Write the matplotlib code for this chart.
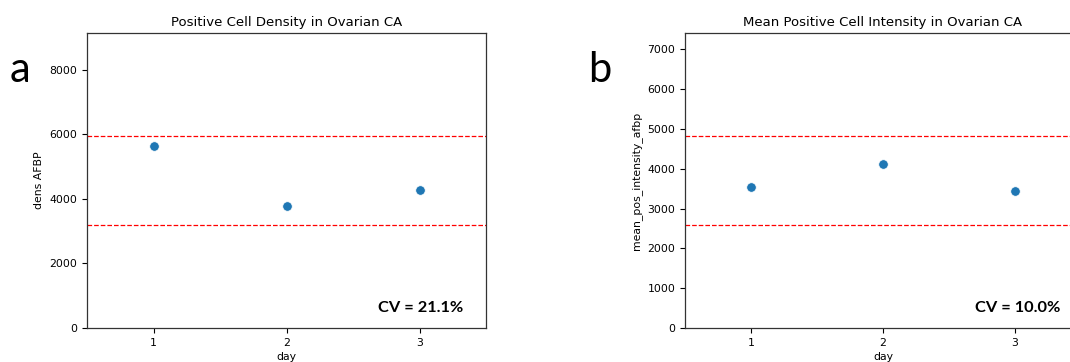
import matplotlib
matplotlib.use("Agg")
import matplotlib.pyplot as plt
import numpy as np

days = [1, 2, 3]
dens_afbp = [5650, 3790, 4270]
mean_intensity_afbp = [3550, 4130, 3440]

titles = ["Positive Cell Density in Ovarian CA", "Mean Positive Cell Intensity in Ovarian CA"]
ylabels = ["dens AFBP", "mean_pos_intensity_afbp"]
cv_labels = ["CV = 21.1%", "CV = 10.0%"]
panel_letters = ["a", "b"]
xlabel = "day"

W, H = 1070, 362
fig = plt.figure(figsize=(W / 100, H / 100), dpi=100)

def fx(px):
    return px / W

def fy(py):
    return 1 - py / H

ax_boxes = [
    (87, 33, 486, 328),
    (685, 33, 1081, 328),
]
letter_pos = [(20, 70), (600, 70)]
series = [dens_afbp, mean_intensity_afbp]

for i in range(2):
    x0, y0, x1, y1 = ax_boxes[i]
    ax = fig.add_axes([fx(x0), fy(y1), (x1 - x0) / W, (y1 - y0) / H])
    vals = np.array(series[i], dtype=float)
    m = vals.mean()
    ax.scatter(days, vals, s=48, color="#1f77b4", edgecolors="white", linewidths=0.6, zorder=3)
    ax.axhline(m * 1.3, color="red", linestyle="--", linewidth=0.9)
    ax.axhline(m * 0.7, color="red", linestyle="--", linewidth=0.9)
    ax.set_xlim(0.5, 3.5)
    ax.set_ylim(0, 2 * m)
    ax.set_xticks(days)
    ax.tick_params(labelsize=7.8, length=3.5, width=0.8)
    ax.set_title(titles[i], fontsize=9.5, pad=5)
    ax.set_ylabel(ylabels[i], fontsize=7.8, labelpad=4)
    ax.set_xlabel(xlabel, fontsize=7.8, labelpad=3)
    for sp in ax.spines.values():
        sp.set_linewidth(0.9)
        sp.set_color("#333333")
    ax.text(0.942 if i == 0 else 0.949, 0.068, cv_labels[i], transform=ax.transAxes,
            ha="right", va="center", fontsize=11.8, fontweight="bold", family="Lato")
    lx, ly = letter_pos[i]
    fig.text(fx(lx), fy(ly), panel_letters[i], ha="center", va="center",
             fontsize=30, family="Lato")

fig.savefig("out.png", dpi=100)
